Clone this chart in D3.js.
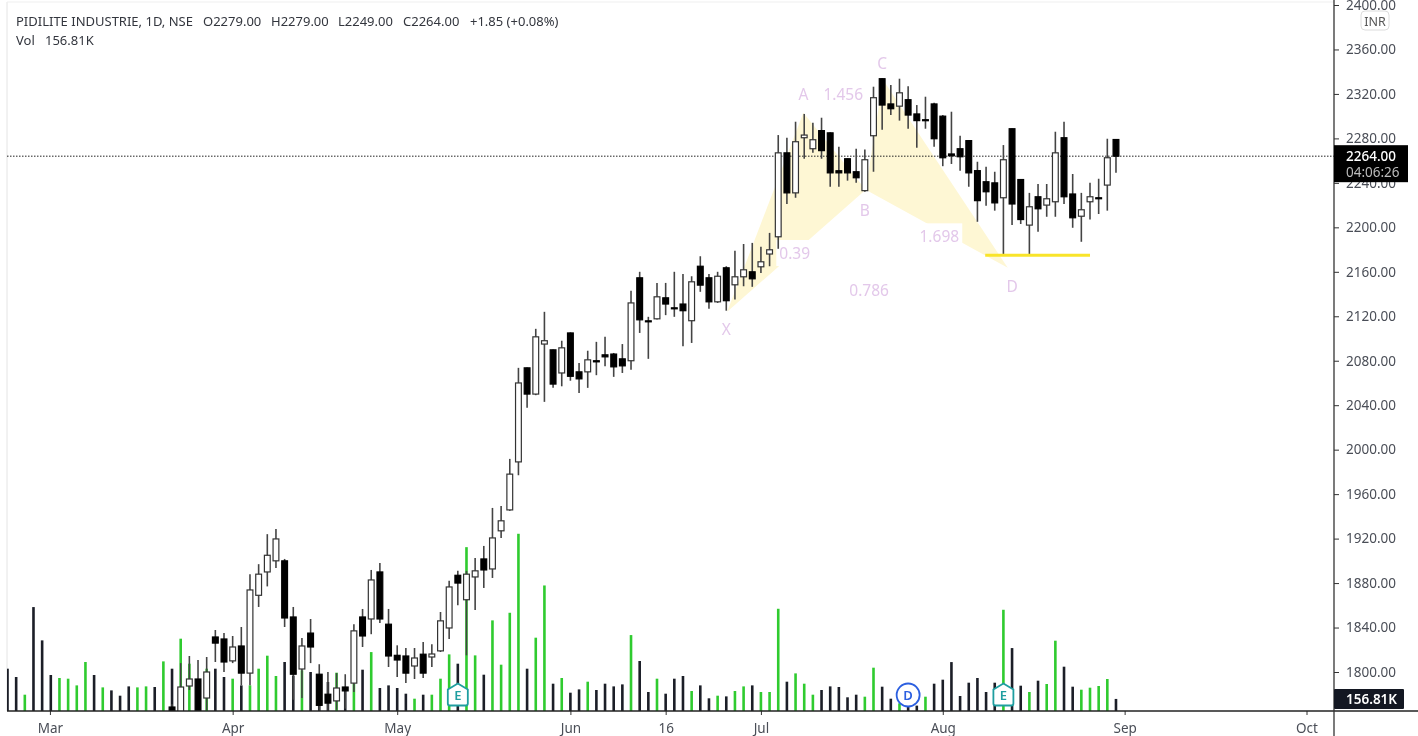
<!DOCTYPE html>
<html>
<head>
<meta charset="utf-8">
<title>PIDILITE INDUSTRIE 1D</title>
<script src="https://cdn.jsdelivr.net/npm/d3@7"></script>
<style>
  html, body { margin: 0; padding: 0; background: #fff; overflow: hidden; }
  svg { display: block; font-family: "Noto Sans", sans-serif; filter: blur(0.5px); }
  .axis text { fill: #4a4e57; font-size: 13.5px; font-family: "Noto Sans", sans-serif; }
  .axis line { stroke: #333; }
  .axis .domain { display: none; }
  .head { fill: #33363e; font-size: 13px; }
  .pattern-label { fill: #e3c8ea; font-size: 15.5px; text-anchor: middle; }
</style>
</head>
<body>
<svg id="chart" width="1418" height="736"></svg>
<script>
// =============================================================================
// Daily candles + volume, price, index 0 = first bar
// =============================================================================
const firstCandle = 19;   // older candles sit under the bottom of the pane

const opens = [
  1768.5, 1762, 1787.4, 1793.7, 1776.6, 1831.5, 1829.7, 1810, 1823.4, 1799,
  1869, 1890, 1900, 1900, 1849.5, 1802.7, 1835, 1798, 1780, 1774,
  1786.5, 1790, 1849.5, 1847.7, 1890, 1843, 1815, 1814.4, 1805.4, 1816,
  1813.5, 1819, 1839.6, 1887, 1865, 1885.5, 1901.7, 1892.7, 1927, 1945.8,
  1989, 2073.6, 2050, 2095, 2089.8, 2069, 2105, 2070, 2070, 2080,
  2085.3, 2086, 2081.7, 2080, 2154.6, 2115.9, 2117.7, 2136.6, 2127.6, 2131,
  2116, 2165, 2154.6, 2133, 2163.6, 2148.3, 2155.5, 2160, 2164.5, 2176,
  2191.5, 2267, 2231, 2280.6, 2270.7, 2287, 2285, 2250.9, 2261.7, 2250,
  2233, 2282.4, 2333.7, 2311, 2309, 2314.8, 2302, 2296.8, 2311, 2300,
  2266, 2270.7, 2278, 2251, 2241, 2240, 2226.6, 2288.7, 2243, 2202,
  2227.5, 2220, 2223, 2280.6, 2230, 2210, 2223, 2226.6, 2238, 2279
];
const highs = [
  1771, 1808, 1814.4, 1810.8, 1813.5, 1837.8, 1835, 1832.4, 1840.5, 1888,
  1897, 1924, 1928.7, 1901.7, 1858.5, 1830.6, 1847.7, 1807, 1800, 1799,
  1798, 1843, 1856.7, 1891.8, 1898, 1856.7, 1824, 1821.6, 1821.6, 1827,
  1825, 1854, 1882, 1891, 1891, 1902.6, 1913.4, 1947.6, 1949.4, 1991.7,
  2073.6, 2074, 2108.7, 2124, 2090, 2098, 2105.5, 2078, 2089, 2097,
  2101.5, 2087, 2095, 2143, 2160, 2119.5, 2150, 2150, 2160, 2158,
  2156, 2174, 2158, 2160, 2165, 2179, 2185, 2186, 2182.5, 2195,
  2283, 2280.6, 2295, 2302, 2294, 2298.6, 2285.5, 2272.5, 2262, 2270.7,
  2270, 2326.5, 2334, 2328, 2333.7, 2327, 2310, 2317.5, 2312, 2301,
  2304, 2282.4, 2278.5, 2259, 2254.5, 2250, 2274, 2289, 2243.5, 2231,
  2239, 2239, 2286, 2295, 2248, 2231, 2240, 2243.7, 2279.7, 2279
];
const lows = [
  1760, 1760, 1783.8, 1760, 1765.8, 1809, 1800, 1808, 1788, 1788,
  1858.5, 1877, 1893.6, 1840.5, 1775, 1776.6, 1808, 1765, 1765, 1766,
  1767, 1782, 1822.5, 1834, 1844, 1804.5, 1795.5, 1790, 1793.7, 1794.6,
  1804.5, 1818, 1829.7, 1860, 1815, 1855.8, 1875.6, 1884.6, 1920.6, 1945,
  1977, 2037.6, 2049, 2043, 2055.6, 2057, 2062, 2051, 2055.6, 2067,
  2075, 2065.5, 2069, 2071.8, 2105, 2081.7, 2117, 2121, 2119.5, 2093,
  2096, 2142, 2126.7, 2132, 2125, 2135, 2147, 2146.5, 2159, 2165,
  2180.7, 2221, 2226.6, 2261.7, 2267, 2261.7, 2236.5, 2236.5, 2242, 2240,
  2232, 2250, 2287.8, 2301, 2296, 2288.7, 2271.6, 2288.7, 2272.5, 2255,
  2257, 2251, 2236.5, 2205, 2219.4, 2215, 2175, 2202, 2203, 2175,
  2196, 2209.5, 2209.5, 2221, 2199.6, 2187, 2207, 2212, 2215, 2249
];
const closes = [
  1762, 1786.5, 1793.7, 1762, 1800, 1826, 1809, 1822.5, 1799, 1873.8,
  1888, 1905, 1919.7, 1848.6, 1798, 1823.4, 1822.5, 1770, 1772, 1785.6,
  1783, 1837, 1832.4, 1882.8, 1847.7, 1814.4, 1810.8, 1799, 1812.6, 1799,
  1816.2, 1846, 1876.5, 1880, 1888, 1891, 1891.8, 1920.6, 1936, 1978,
  2060, 2050, 2101.5, 2098, 2059, 2091.6, 2066, 2063.7, 2080.8, 2079,
  2083.5, 2074.5, 2075.4, 2132, 2116.8, 2115, 2137.5, 2131, 2126.7, 2125,
  2151, 2148, 2133, 2156, 2134, 2155.5, 2161.8, 2153.7, 2169, 2179.8,
  2267, 2231, 2277, 2283, 2278.8, 2269, 2249, 2249, 2249, 2244.6,
  2260.8, 2316.6, 2310, 2306.7, 2321, 2301, 2296, 2296, 2279.7, 2262.6,
  2264.4, 2263.5, 2249, 2224, 2232, 2222, 2260.8, 2221, 2207, 2218.5,
  2216.7, 2225.7, 2267, 2227.5, 2208.6, 2215.8, 2227.5, 2225.7, 2262.6, 2264
];

// Volume in thousands, one per bar; volUp marks the green ones
const volumes = [
  550, 442, 212, 1351, 918, 468, 429, 420, 333, 637,
  468, 307, 268, 199, 320, 307, 320, 312, 645, 550,
  940, 615, 400, 550, 550, 442, 420, 333, 334, 550,
  719, 455, 637, 460, 529, 507, 250, 377, 498, 260,
  355, 537, 766, 299, 333, 299, 225, 160, 212, 212,
  420, 736, 615, 2130, 723, 472, 1178, 602, 1277, 2304,
  550, 953, 1632, 355, 429, 238, 281, 381, 273, 355,
  320, 346, 987, 650, 247, 420, 225, 420, 455, 260,
  333, 165, 199, 190, 260, 320, 333, 247, 247, 1329,
  381, 489, 355, 212, 273, 320, 312, 178, 212, 186,
  563, 316, 160, 100, 80, 70, 186, 355, 407, 636,
  195, 368, 429, 247, 368, 1316, 818, 329, 247, 394,
  351, 914, 576, 316, 277, 303, 325, 416, 156.81
];
const volUp = [
  0, 0, 1, 0, 0, 0, 1, 1, 1, 1,
  0, 1, 0, 0, 0, 1, 1, 0, 1, 0,
  1, 1, 0, 1, 0, 0, 1, 0, 1, 1,
  1, 1, 0, 0, 1, 0, 0, 0, 1, 0,
  1, 0, 1, 0, 0, 0, 0, 1, 0, 1,
  1, 1, 0, 1, 1, 0, 1, 1, 1, 1,
  0, 1, 1, 0, 1, 0, 0, 1, 0, 0,
  0, 0, 1, 0, 0, 1, 0, 0, 0, 1,
  0, 0, 1, 0, 1, 1, 0, 1, 1, 1,
  0, 1, 1, 1, 0, 0, 0, 0, 0, 1,
  1, 0, 0, 1, 0, 0, 1, 0, 0, 0,
  0, 0, 0, 0, 0, 1, 0, 0, 1, 0,
  1, 1, 0, 0, 1, 1, 1, 1, 0
];

const priceTicks = [1800, 1840, 1880, 1920, 1960, 2000, 2040, 2080, 2120, 2160, 2200, 2240, 2280, 2320, 2360, 2400];
const dateTickIdx = [4.9, 26, 45, 65, 76, 87, 108, 129, 150];
const dateTickLabels = ['Mar', 'Apr', 'May', 'Jun', '16', 'Jul', 'Aug', 'Sep', 'Oct'];

// XABCD pattern, bar index + price
const patternIdx = [83.1, 91.9, 99.1, 101.1, 115.5];
const patternPrice = [2124, 2303, 2233.8, 2332.8, 2163.6];
const patternLabels = ['X', 'A', 'B', 'C', 'D', '1.456', '0.39', '0.786', '1.698'];
const patternLabelIdx = [83, 91.9, 99, 101, 116, 96.5, 90.9, 99.5, 107.6];
const patternLabelPrice = [2107.8, 2319, 2215, 2347, 2146.5, 2319, 2176, 2142.5, 2191];
const boxedLabels = ['0.39', '1.698'];

const supportIdx = [112.9, 125];
const supportPrice = [2175, 2175];

const headParts = ['PIDILITE INDUSTRIE, 1D, NSE', 'O2279.00', 'H2279.00', 'L2249.00', 'C2264.00', '+1.85 (+0.08%)'];
const headX = [16, 203, 271, 338, 403, 470];
const lastPrice = 2264;
const lastVol = 156.81;
const earningsIdx = [52, 115];
const dividendIdx = [104];

// -----------------------------------------------------------------------------
const W = 1418, H = 736;
const M = { left: 7, right: 1334, base: 711 };
const GREEN = '#2fcb2f', DARK = '#1b1e27', WICK = '#444';

const svg = d3.select('#chart');
const x = d3.scaleLinear().domain([0, 150]).range([7.5, 1306.5]);
const y = d3.scaleLinear().domain([1800, 2400]).range([672, 5]);
const yVol = d3.scaleLinear().domain([0, 2600]).range([M.base, M.base - 200]);

svg.append('clipPath').attr('id', 'pane').append('rect')
  .attr('x', M.left).attr('y', 0).attr('width', M.right - M.left).attr('height', M.base);

// Frame
svg.append('path').attr('d', d3.line()([[M.left, 2], [M.left, M.base]])).attr('stroke', '#e4e4e4').attr('fill', 'none');
svg.append('path').attr('d', d3.line()([[M.left, 2], [M.right, 2]])).attr('stroke', '#efefef').attr('fill', 'none');

const pane = svg.append('g').attr('clip-path', 'url(#pane)');

// Pattern fill
const tri = (a, b, c) => d3.line()([a, b, c].map(i => [x(patternIdx[i]), y(patternPrice[i])])) + 'Z';
pane.append('path').attr('d', tri(0, 1, 2)).attr('fill', '#fef7d4');
pane.append('path').attr('d', tri(2, 3, 4)).attr('fill', '#fef7d4');

// Volume
pane.selectAll('.vol').data(volumes).enter()
  .append('rect').attr('class', 'vol')
  .attr('x', (d, i) => x(i) - 1.3).attr('y', d => yVol(d))
  .attr('width', 2.6).attr('height', d => M.base - yVol(d))
  .attr('fill', (d, i) => volUp[i] ? GREEN : DARK);

// Dotted last price line
pane.append('line').attr('x1', M.left).attr('x2', M.right)
  .attr('y1', y(lastPrice)).attr('y2', y(lastPrice))
  .attr('stroke', '#222').attr('stroke-dasharray', '1.5 1.5');

// Pattern labels: white plate first, candles go over it
const labelG = svg.append('g');
patternLabels.forEach((t, i) => {
  const el = labelG.append('text').attr('class', 'pattern-label')
    .attr('x', x(patternLabelIdx[i])).attr('y', y(patternLabelPrice[i]) + 5).text(t);
  if (boxedLabels.includes(t)) {
    const b = el.node().getBBox();
    pane.append('rect').attr('x', b.x - 3).attr('y', b.y - 2)
      .attr('width', b.width + 6).attr('height', b.height + 4).attr('fill', '#fff');
  }
});

// Candles
const candles = pane.selectAll('.candle').data(opens).enter()
  .append('g').attr('class', 'candle')
  .attr('transform', (d, i) => `translate(${x(i + firstCandle)},0)`);
candles.append('line')
  .attr('y1', (d, i) => y(highs[i])).attr('y2', (d, i) => y(lows[i]))
  .attr('stroke', WICK).attr('stroke-width', 1.6);
candles.append('rect')
  .attr('x', -2.9).attr('width', 5.8)
  .attr('y', (d, i) => y(Math.max(d, closes[i])))
  .attr('height', (d, i) => Math.max(1, Math.abs(y(d) - y(closes[i]))))
  .attr('fill', (d, i) => closes[i] < d ? '#000' : '#fff')
  .attr('stroke', (d, i) => closes[i] < d ? '#000' : '#333')
  .attr('stroke-width', 1.2);

// Support line
pane.append('line')
  .attr('x1', x(supportIdx[0])).attr('x2', x(supportIdx[1]))
  .attr('y1', y(supportPrice[0])).attr('y2', y(supportPrice[1]))
  .attr('stroke', '#f9e42a').attr('stroke-width', 3);

labelG.raise();

// Earnings and dividend flags
const flagY = 695;
earningsIdx.forEach(i => {
  const g = svg.append('g').attr('transform', `translate(${x(i)},${flagY})`);
  g.append('path').attr('d', 'M0,-11.5 L10,-5.5 L10,8.5 Q10,10.5 8,10.5 L-8,10.5 Q-10,10.5 -10,8.5 L-10,-5.5 Z')
    .attr('fill', '#fff').attr('stroke', '#1f9ea0').attr('stroke-width', 1.8);
  g.append('text').attr('y', 5).attr('text-anchor', 'middle').attr('fill', '#1f9ea0')
    .style('font-size', '13px').style('font-weight', 600).text('E');
});
dividendIdx.forEach(i => {
  const g = svg.append('g').attr('transform', `translate(${x(i)},${flagY})`);
  g.append('circle').attr('r', 11.5).attr('fill', '#fff').attr('stroke', '#2b5fe0').attr('stroke-width', 1.8);
  g.append('text').attr('y', 5).attr('text-anchor', 'middle').attr('fill', '#2b5fe0')
    .style('font-size', '13px').style('font-weight', 600).text('D');
});

// Axes
svg.append('g').attr('class', 'axis')
  .attr('transform', `translate(0,${M.base})`)
  .call(d3.axisBottom(x).tickValues(dateTickIdx).tickFormat((d, i) => dateTickLabels[i]).tickSize(4).tickPadding(8));
svg.append('line').attr('x1', M.left).attr('x2', W).attr('y1', M.base).attr('y2', M.base)
  .attr('stroke', '#222').attr('stroke-width', 1.3);

svg.append('g').attr('class', 'axis')
  .attr('transform', `translate(${M.right},0)`)
  .call(d3.axisRight(y).tickValues(priceTicks).tickFormat(d => d.toFixed(2)).tickSize(5).tickPadding(7));
svg.append('line').attr('x1', M.right).attr('x2', M.right).attr('y1', 0).attr('y2', H)
  .attr('stroke', '#333').attr('stroke-width', 1.3);

// INR badge
svg.append('rect').attr('x', 1361).attr('y', 11).attr('width', 28).attr('height', 19).attr('rx', 4)
  .attr('fill', '#fff').attr('stroke', '#dcdcdc');
svg.append('text').attr('x', 1375).attr('y', 25.5).attr('text-anchor', 'middle')
  .attr('fill', '#555').style('font-size', '12.5px').text('INR');

// Last price plate
const plateY = y(lastPrice);
svg.append('rect').attr('x', M.right).attr('y', plateY - 11).attr('width', 74).attr('height', 37).attr('fill', '#000');
svg.append('text').attr('x', 1346).attr('y', plateY + 5).attr('fill', '#fff')
  .style('font-size', '13.5px').style('font-weight', 500).text(lastPrice.toFixed(2));
svg.append('text').attr('x', 1346).attr('y', plateY + 21).attr('fill', '#bbb')
  .style('font-size', '13.5px').text('04:06:26');

// Last volume plate
const volY = yVol(lastVol);
svg.append('rect').attr('x', M.right).attr('y', volY - 10).attr('width', 70).attr('height', 20).attr('rx', 1).attr('fill', '#131722');
svg.append('text').attr('x', 1346).attr('y', volY + 5).attr('fill', '#fff')
  .style('font-size', '13.5px').style('font-weight', 600).text(lastVol + 'K');

// Header
headParts.forEach((t, i) => {
  svg.append('text').attr('class', 'head').attr('x', headX[i]).attr('y', 26).text(t);
});
svg.append('text').attr('class', 'head').attr('x', 16).attr('y', 45).text('Vol');
svg.append('text').attr('class', 'head').attr('x', 45).attr('y', 45).text(lastVol + 'K');
</script>
</body>
</html>
